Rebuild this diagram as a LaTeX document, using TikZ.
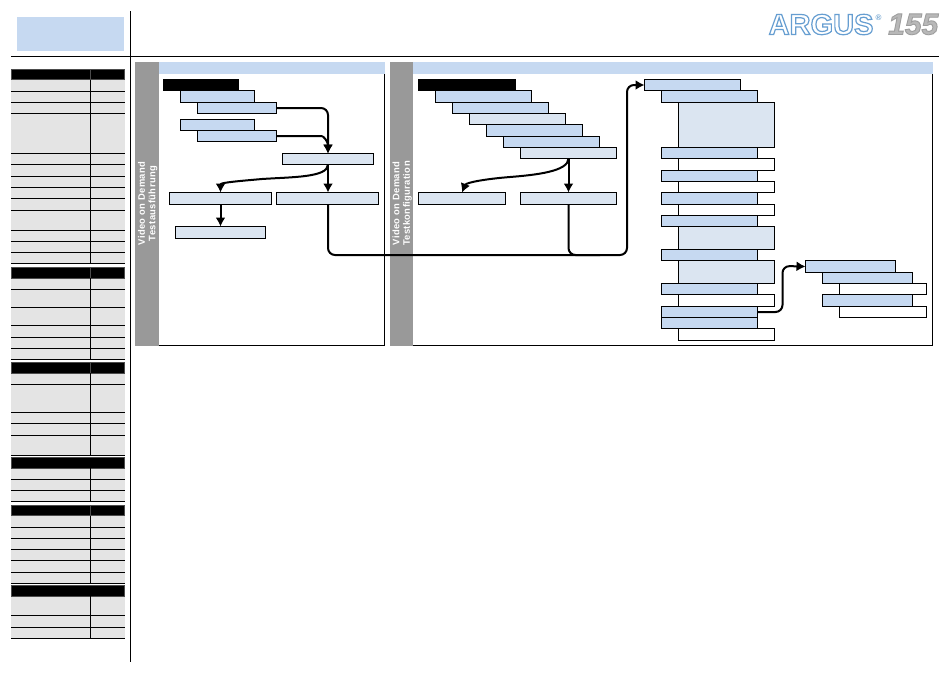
\documentclass[tikz,border=0pt]{standalone}
\usepackage{fontspec}
\setmainfont{Liberation Sans}
\newfontfamily\logothin{Liberation Sans Bold}
\newfontfamily\logoital{Liberation Sans Bold Italic}
\newfontfamily\bandfont[LetterSpace=4]{Liberation Sans Bold}
\usetikzlibrary{arrows.meta}
\definecolor{hdrblue}{HTML}{C6D9F1}
\definecolor{paleblue}{HTML}{DBE5F1}
\definecolor{rowgrey}{HTML}{E4E4E4}
\definecolor{bandgrey}{HTML}{999999}
\definecolor{logoblue}{HTML}{6FA3D0}
\newcommand{\outlinetext}[3]{\special{pdf:code q 1 Tr #1 w #2 RG}#3\special{pdf:code Q}}
\newcommand{\outlinefill}[4]{\special{pdf:code q 2 Tr #1 w #2 RG #3 rg}#4\special{pdf:code Q}}
\tikzset{
  boxbase/.style={draw=black,line width=0.9pt,inner sep=0pt,outer sep=0pt},
  blackbox/.style={boxbase,fill=black},
  bluebox/.style={boxbase,fill=hdrblue},
  palebox/.style={boxbase,fill=paleblue},
  whitebox/.style={boxbase,fill=white},
  link/.style={line width=2pt,rounded corners=7pt},
  linkarrow/.style={line width=2pt,rounded corners=7pt,-{Latex[length=9pt,width=10pt]}},
  bandtext/.style={rotate=90,text=white,font=\bandfont\fontsize{9.4}{10}\selectfont,inner sep=0pt},
  rule/.style={line width=1pt,black},
}
\newcommand{\bx}[6]{%
  \pgfmathsetmacro{\bw}{#4-#2}\pgfmathsetmacro{\bh}{#5-#3}%
  \pgfmathsetmacro{\bcx}{(#4+#2)/2}\pgfmathsetmacro{\bcy}{(#5+#3)/2}%
  \node[#6,minimum width=\bw pt,minimum height=\bh pt] (#1) at (\bcx,\bcy) {};}
\newcommand{\tablesec}[5]{%
  \fill[rowgrey] (11,#2) rectangle (124.5,#5);
  \draw[black!70,fill=black,line width=0.8pt] (11.5,#1) rectangle (124,#2);
  \ifnum#3=1 \draw[black!70,line width=0.8pt] (90,#1) -- (90,#2);\fi
  \draw[rule] (90,#2) -- (90,#5);
  \foreach \yy in {#4,#5} {\draw[rule] (11,\yy) -- (125,\yy);}
}
\begin{document}
\begin{tikzpicture}[x=1pt,y=-1pt]
\useasboundingbox (0,0) rectangle (950,673);
\fill[white] (0,0) rectangle (950,673);
% header
\fill[hdrblue] (17,17) rectangle (124,51);
\draw[rule] (130.5,11) -- (130.5,661.5);
\draw[rule] (11,56.5) -- (939,56.5);
% logo
\node[anchor=base west,inner sep=0pt,font=\logothin\fontsize{29}{29}\selectfont] (logoa) at (768.5,34.5) {\outlinetext{1.2}{0.40 0.62 0.82}{ARGUS}};
\node[anchor=base west,inner sep=0pt,text=logoblue,font=\logothin\fontsize{8}{8}\selectfont] (logoc) at (875.5,20.5) {®};
\node[anchor=base west,inner sep=0pt,font=\logoital\fontsize{30}{30}\selectfont] (logod) at (888,34.5) {\outlinefill{0.9}{0.62 0.62 0.62}{0.72 0.72 0.72}{155}};
% table
\tablesec{69}{79.5}{1}{91,102,113,153,164,176,187,198,210,230,241,252}{263}
\tablesec{267}{278}{1}{289,307,325,337,348}{359}
\tablesec{362}{373}{1}{384,412,423,435}{455}
\tablesec{457}{468}{0}{479,490}{501}
\tablesec{505.5}{515.5}{1}{527,538,549,560,572}{583}
\tablesec{585}{596}{0}{615,627}{638}
% panels
\draw[line width=0.9pt] (384.5,67) -- (384.5,345.5) -- (159,345.5);
\fill[bandgrey] (135,62) rectangle (159,345.5);
\fill[hdrblue] (159,62) rectangle (384.5,73.5);
\draw[line width=0.9pt] (932.5,67) -- (932.5,345.5) -- (413,345.5);
\fill[bandgrey] (390,62) rectangle (413,345.5);
\fill[hdrblue] (413,62) rectangle (932.5,73.5);
\node[bandtext] (t1a) at (141.5,203.5) {Video on Demand};
\node[bandtext] (t1b) at (153,203.5) {Testausführung};
\node[bandtext] (t2a) at (396,203.5) {Video on Demand};
\node[bandtext] (t2b) at (407.5,203.5) {Testkonfiguration};
% panel 1 boxes
\bx{a0}{163}{79}{238}{90.5}{blackbox}
\bx{a1}{180.5}{90.5}{254.5}{102.5}{bluebox}
\bx{a2}{197.5}{102.5}{276.5}{113.5}{bluebox}
\bx{a3}{180.5}{119.5}{254.5}{130.5}{bluebox}
\bx{a4}{197.5}{130.5}{276.5}{141.5}{bluebox}
\bx{ac}{282.5}{153.5}{373.5}{164.5}{palebox}
\bx{ad}{169.5}{192.5}{271.5}{204.5}{palebox}
\bx{ae}{276.5}{192.5}{378.5}{204.5}{palebox}
\bx{af}{175.5}{226.5}{265.5}{238.5}{palebox}
% panel 2 boxes
\bx{b0}{418}{79}{515}{90.5}{blackbox}
\bx{b1}{435.5}{90.5}{531.5}{102.5}{bluebox}
\bx{b2}{452.5}{102.5}{548.5}{113.5}{bluebox}
\bx{b3}{469.5}{113.5}{565.5}{124.5}{palebox}
\bx{b4}{486.5}{124.5}{582.5}{136.5}{bluebox}
\bx{b5}{503.5}{136.5}{599.5}{147.5}{bluebox}
\bx{b6}{520.5}{147.5}{616.5}{158.5}{palebox}
\bx{bh}{418.5}{192.5}{505.5}{204.5}{palebox}
\bx{bi}{520.5}{192.5}{616.5}{204.5}{palebox}
% panel 3 boxes
\bx{c0}{644.5}{79.5}{740.5}{90.5}{bluebox}
\bx{c1}{661.5}{90.5}{757.5}{102.5}{bluebox}
\bx{c2}{678.5}{102.5}{774.5}{147.5}{palebox}
\bx{c3}{661.5}{147.5}{757.5}{158.5}{bluebox}
\bx{c4}{678.5}{158.5}{774.5}{170.5}{whitebox}
\bx{c5}{661.5}{170.5}{757.5}{181.5}{bluebox}
\bx{c6}{678.5}{181.5}{774.5}{192.5}{whitebox}
\bx{c7}{661.5}{192.5}{757.5}{204.5}{bluebox}
\bx{c8}{678.5}{204.5}{774.5}{215.5}{whitebox}
\bx{c9}{661.5}{215.5}{757.5}{226.5}{bluebox}
\bx{c10}{678.5}{226.5}{774.5}{249.5}{palebox}
\bx{c11}{661.5}{249.5}{757.5}{260.5}{bluebox}
\bx{c12}{678.5}{260.5}{774.5}{283.5}{palebox}
\bx{c13}{661.5}{283.5}{757.5}{294.5}{bluebox}
\bx{c14}{678.5}{294.5}{774.5}{306.5}{whitebox}
\bx{c15}{661.5}{306.5}{757.5}{317.5}{bluebox}
\bx{c16}{661.5}{317.5}{757.5}{328.5}{bluebox}
\bx{c17}{678.5}{328.5}{774.5}{340.5}{whitebox}
\bx{d0}{805.5}{260.5}{895.5}{272.5}{bluebox}
\bx{d1}{822.5}{272.5}{912.5}{283.5}{bluebox}
\bx{d2}{839.5}{283.5}{926.5}{294.5}{whitebox}
\bx{d3}{822.5}{294.5}{912.5}{306.5}{bluebox}
\bx{d4}{839.5}{306.5}{926.5}{317.5}{whitebox}
% connectors panel 1
\draw[linkarrow] (a2.east) -- (a2.east -| ac.north) -- (ac.north);
\draw[linkarrow] (a4.east) -- ++(38,0) .. controls +(9,0) and +(0,-12) .. (ac.north);
\draw[linkarrow,rounded corners=0pt] (ac.south) .. controls +(0,13) and +(30,-2) .. (262,179) .. controls +(-22,2) and +(0,-10) .. (ad.north);
\draw[linkarrow] (ac.south) -- (ac.south |- ae.north);
\draw[linkarrow] (ad.south) -- (ad.south |- af.north);
% panel 2
\draw[linkarrow,rounded corners=0pt] (b6.south) .. controls +(0,13) and +(25,-2) .. (510,177) .. controls +(-25,2) and +(4,-10) .. (bh.north);
\draw[linkarrow] (b6.south) -- (b6.south |- bi.north);
% long connector
\coordinate (bend) at (627,255);
\coordinate (merge) at (600,255);
\draw[linkarrow] (ae.south -| ac.south) -- (ac.south |- bend) -- (bend) -- (bend |- c0.west) -- (c0.west);
\draw[link] (bi.south) -- (bi.south |- merge) -- (merge);
% panel 3 to right
\coordinate (bendb) at (782.5,266);
\draw[linkarrow] (c15.east) -- (bendb |- c15.east) -- (bendb) -- (d0.west);
\end{tikzpicture}
\end{document}
